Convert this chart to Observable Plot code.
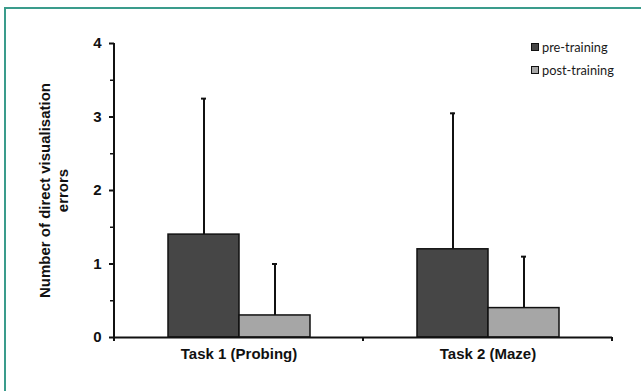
<!DOCTYPE html>
<html><head><meta charset="utf-8">
<script src="https://cdn.jsdelivr.net/npm/d3@7"></script>
<script src="https://cdn.jsdelivr.net/npm/@observablehq/plot@0.6"></script>
<style>
html,body{margin:0;padding:0;background:#fff;}
#wrap{position:relative;width:641px;height:391px;overflow:hidden;}
#frame{position:absolute;left:4px;top:7px;width:700px;height:500px;border-top:2px solid #3a9c8c;border-left:2px solid #3a9c8c;pointer-events:none;}
#legend{position:absolute;left:531px;top:35px;font-family:Lato,"Open Sans",sans-serif;font-size:12.8px;color:#1a1a1a;}
.row{display:flex;align-items:center;height:23px;}
.sw{width:6px;height:6px;border:1.5px solid #111;margin-right:3px;}
</style></head><body>
<div id="wrap"><div id="chart"></div><div id="frame"></div><div id="legend"></div></div>
<script>
const tasks = ["Task 1 (Probing)", "Task 2 (Maze)"];
const series = ["pre-training", "post-training"];
const preMeans = [1.4, 1.2];
const postMeans = [0.3, 0.4];
const preSD = [1.85, 1.85];
const postSD = [0.7, 0.7];
const seriesColors = ["#464646", "#a6a6a6"];
const yTicks = [0, 1, 2, 3, 4];
const yMinorTicks = [0.5, 1.5, 2.5, 3.5];
const yLabel = "Number of direct visualisation\nerrors";

const rows = [];
tasks.forEach((t, i) => {
  rows.push({task: t, series: series[0], mean: preMeans[i], sd: preSD[i]});
  rows.push({task: t, series: series[1], mean: postMeans[i], sd: postSD[i]});
});

let facetCount = 0;
const axisLines = (index, scales) => {
  const {x, y} = scales;
  const first = index && index.fx !== undefined ? index.fx === tasks[0] : facetCount === 0;
  facetCount++;
  const g = d3.create("svg:g").attr("stroke", "#111").attr("stroke-width", 2);
  const [x0, x1] = x.range();
  const ys = y.domain();
  if (first) {
    g.append("line").attr("x1", x0).attr("x2", x0).attr("y1", y(ys[1])).attr("y2", y(0) + 4);
  }
  g.append("line").attr("x1", x1).attr("x2", x1).attr("y1", y(0)).attr("y2", y(0) + 4);
  return g.node();
};

const chart = Plot.plot({
  width: 641,
  height: 391,
  marginTop: 43,
  marginBottom: 54,
  marginLeft: 114,
  marginRight: 29,
  style: {background: "transparent", fontFamily: "'Liberation Sans', Arial, sans-serif"},
  fx: {domain: tasks, padding: 0, label: null},
  x: {domain: series, paddingInner: 0, paddingOuter: 0.73, axis: null},
  y: {domain: [0, 4], axis: null},
  color: {domain: series, range: seriesColors},
  marks: [
    Plot.barY(rows, {fx: "task", x: "series", y: "mean", fill: "series", stroke: "#111", strokeWidth: 1.5}),
    Plot.ruleX(rows, {fx: "task", x: "series", y1: "mean", y2: d => d.mean + d.sd, stroke: "#111", strokeWidth: 2}),
    Plot.tickY(rows, {fx: "task", x: "series", y: d => d.mean + d.sd, stroke: "#111", strokeWidth: 2, insetLeft: 33, insetRight: 33}),
    Plot.ruleY([0], {stroke: "#111", strokeWidth: 2}),
    axisLines,
    Plot.axisY({ticks: yTicks, tickSize: 5, tickPadding: 8, strokeWidth: 2, stroke: "#111",
      fontSize: 15, fontWeight: "bold", fill: "#111", label: null, tickFormat: d => String(d)}),
    Plot.axisY({ticks: yMinorTicks, tickSize: 4, strokeWidth: 1.5, stroke: "#111", tickFormat: () => "", label: null}),
    Plot.axisFx({anchor: "bottom", tickSize: 0, tickPadding: 11, fontSize: 15, fontWeight: "bold", fill: "#111", label: null}),
    Plot.text([yLabel], {fx: [tasks[0]], frameAnchor: "left", dx: -61, rotate: -90, text: d => d,
      fontSize: 15, fontWeight: "bold", fill: "#111", lineHeight: 1.2, lineAnchor: "middle", textAnchor: "middle"})
  ]
});
document.getElementById("chart").appendChild(chart);

const legend = document.getElementById("legend");
series.forEach((s, i) => {
  const row = document.createElement("div");
  row.className = "row";
  const sw = document.createElement("span");
  sw.className = "sw";
  sw.style.background = seriesColors[i];
  const label = document.createElement("span");
  label.textContent = s;
  row.appendChild(sw);
  row.appendChild(label);
  legend.appendChild(row);
});
</script>
</body></html>
